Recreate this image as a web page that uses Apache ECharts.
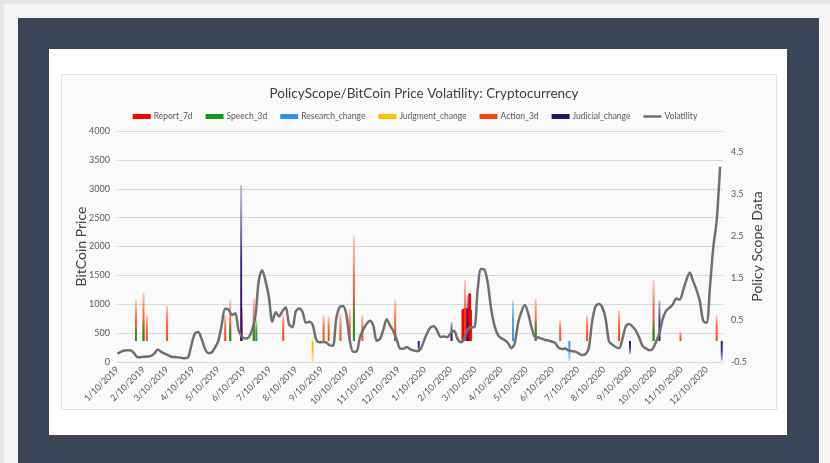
<!DOCTYPE html>
<html>
<head>
<meta charset="utf-8">
<script src="https://cdn.jsdelivr.net/npm/echarts@6/dist/echarts.min.js"></script>
<style>
  html, body { margin: 0; padding: 0; }
  body { width: 830px; height: 463px; overflow: hidden; background: #e6e6e6; position: relative; font-family: Lato, sans-serif; }
  .outer { position: absolute; left: 4px; top: 4px; width: 840px; height: 480px; background: #f5f5f5; }
  .slate { position: absolute; left: 18px; top: 18px; width: 801px; height: 470px; background: #3b4757; }
  .panel { position: absolute; left: 49px; top: 49px; width: 738px; height: 386px; background: #fff; }
  .chart-box { position: absolute; left: 61px; top: 74px; width: 714px; height: 334px; background: #fafafa; border: 1px solid #e2e2e2; }
  #chart { position: absolute; left: 0; top: 0; width: 830px; height: 463px; }
</style>
</head>
<body>
<div class="outer"></div>
<div class="slate"></div>
<div class="panel"></div>
<div class="chart-box"></div>
<div id="chart"></div>
<script>
// daily category axis, 1/10/2019 onward
const startDate = new Date(2019, 0, 10);
const dayCount = 720;

// Volatility (left axis), read every 4 days from 1/10/2019
const volStep = 4;
const volatility = [
  145, 175, 200, 205, 200, 150, 81, 85, 90, 95,
  105, 150, 215, 175, 145, 120, 92, 85, 80, 72,
  66, 80, 300, 490, 520, 400, 230, 155, 165, 250,
  370, 650, 920, 910, 814, 843, 550, 438, 405, 430,
  550, 800, 1420, 1590, 1400, 1120, 700, 860, 790, 880,
  950, 650, 600, 880, 925, 860, 680, 695, 645, 393,
  340, 345, 340, 290, 280, 750, 950, 970, 820, 380,
  178, 178, 420, 560, 660, 715, 630, 370, 400, 560,
  740, 630, 530, 380, 232, 230, 260, 220, 200, 188,
  220, 360, 500, 600, 620, 540, 435, 440, 430, 500,
  540, 400, 340, 400, 560, 600, 600, 1250, 1610, 1600,
  1370, 920, 630, 470, 410, 381, 330, 240, 324, 670,
  871, 985, 843, 600, 435, 425, 405, 380, 372, 355,
  330, 250, 225, 235, 200, 190, 180, 150, 121, 135,
  240, 700, 960, 1005, 950, 750, 360, 300, 260, 237,
  400, 620, 660, 612, 540, 420, 275, 237, 205, 230,
  352, 500, 750, 890, 940, 1000, 1100, 1080, 1230, 1420,
  1550, 1400, 1250, 1050, 710, 680, 1300, 1990, 2450, 3380
];

// Policy scope series (right axis): [date, value]
const report7d = [
  ['2/24/2020', 0.75], ['2/25/2020', 0.76], ['2/26/2020', 0.77], ['2/27/2020', 0.78],
  ['2/28/2020', 0.78], ['2/29/2020', 0.77], ['3/1/2020', 0.76], ['3/2/2020', 0.78],
  ['3/3/2020', 1.13], ['3/4/2020', 1.13], ['3/5/2020', 0.74]
];
const speech3d = [
  ['2/1/2019', 0.33], ['2/10/2019', 0.49], ['5/24/2019', 0.41], ['6/21/2019', 0.49],
  ['6/24/2019', 0.49], ['10/18/2019', 1.01], ['12/6/2019', 0.25], ['5/21/2020', 0.49],
  ['10/8/2020', 0.49]
];
const researchChange = [['4/24/2020', 0.97], ['6/30/2020', -0.47]];
const judgmentChange = [['8/30/2019', -0.51]];
const action3d = [
  ['2/1/2019', 0.97], ['2/10/2019', 1.15], ['2/14/2019', 0.61], ['3/10/2019', 0.84],
  ['5/18/2019', 0.61], ['5/24/2019', 0.97], ['6/7/2019', 0.81], ['6/21/2019', 1.01],
  ['7/26/2019', 0.65], ['9/12/2019', 0.61], ['9/18/2019', 0.59], ['10/2/2019', 0.65],
  ['10/13/2019', 0.75], ['10/18/2019', 2.51], ['10/28/2019', 0.61], ['12/6/2019', 0.97],
  ['2/27/2020', 1.45], ['5/21/2020', 1.01], ['6/19/2020', 0.49], ['7/21/2020', 0.61],
  ['8/28/2020', 0.73], ['10/8/2020', 1.45], ['11/9/2020', 0.21], ['12/22/2020', 0.61]
];
const judicialChange = [
  ['6/6/2019', 3.71], ['1/3/2020', -0.27], ['2/11/2020', 0.45], ['3/1/2020', 1.09],
  ['9/10/2020', -0.31], ['10/15/2020', 0.97], ['12/28/2020', -0.47]
];

const fmtDate = (d) => (d.getMonth() + 1) + '/' + d.getDate() + '/' + d.getFullYear();
const categories = [];
for (let i = 0; i < dayCount; i++) {
  const d = new Date(startDate);
  d.setDate(d.getDate() + i);
  categories.push(fmtDate(d));
}
const volData = volatility.map((v, i) => [categories[i * volStep], v]);

const fadeColor = (rgb, solid) => (p) => {
  if (solid) return 'rgb(' + rgb + ')';
  const full = 'rgba(' + rgb + ',1)';
  const faded = 'rgba(' + rgb + ',0.25)';
  const neg = p.value[1] < 0;
  return new echarts.graphic.LinearGradient(0, 0, 0, 1, neg
    ? [{ offset: 0, color: full }, { offset: 0.5, color: 'rgba(' + rgb + ',0.85)' }, { offset: 1, color: faded }]
    : [{ offset: 0, color: faded }, { offset: 0.5, color: 'rgba(' + rgb + ',0.85)' }, { offset: 1, color: full }]);
};

const barSeries = (name, data, rgb, z, solid) => ({
  name: name,
  type: 'bar',
  yAxisIndex: 1,
  data: data,
  barWidth: 2,
  barGap: '-100%',
  z: z,
  itemStyle: { color: fadeColor(rgb, solid) },
  emphasis: { disabled: true }
});

const labelColor = '#595959';
const chart = echarts.init(document.getElementById('chart'));
chart.setOption({
  animation: false,
  textStyle: { fontFamily: 'Lato, sans-serif' },
  title: {
    text: 'PolicyScope/BitCoin Price Volatility: Cryptocurrency',
    left: 419,
    textAlign: 'center',
    top: 82,
    textStyle: { fontSize: 13.5, fontWeight: 'normal', color: '#404040', fontFamily: 'Lato, sans-serif' }
  },
  legend: {
    top: 107,
    left: 'center',
    itemWidth: 18,
    itemHeight: 5,
    itemGap: 13,
    textStyle: { fontSize: 8.5, color: labelColor, padding: [0, 0, 0, -2] },
    data: [
      { name: 'Report_7d', icon: 'rect', itemStyle: { color: '#ff0000' } },
      { name: 'Speech_3d', icon: 'rect', itemStyle: { color: '#0b9a1c' } },
      { name: 'Research_change', icon: 'rect', itemStyle: { color: '#2f93f0' } },
      { name: 'Judgment_change', icon: 'rect', itemStyle: { color: '#ffc000' } },
      { name: 'Action_3d', icon: 'rect', itemStyle: { color: '#ff4516' } },
      { name: 'Judicial_change', icon: 'rect', itemStyle: { color: '#2a0f6e' } },
      { name: 'Volatility', icon: 'path://M0,0 L36,0 L36,5 L0,5 Z', itemStyle: { color: '#707070' } }
    ]
  },
  grid: { left: 117, right: 107, top: 131, bottom: 101 },
  xAxis: {
    type: 'category',
    data: categories,
    axisLine: { onZero: false, lineStyle: { color: '#d9d9d9' } },
    axisTick: { show: false },
    axisLabel: {
      interval: (idx, val) => val.split('/')[1] === '10',
      rotate: 45,
      fontSize: 9,
      color: labelColor,
      margin: 6
    }
  },
  yAxis: [
    {
      type: 'value',
      min: 0,
      max: 4000,
      interval: 500,
      name: 'BitCoin Price',
      nameLocation: 'middle',
      nameRotate: 90,
      nameGap: 29,
      nameMoveOverlap: false,
      nameTextStyle: { fontSize: 14, color: '#404040' },
      axisLabel: { fontSize: 9, color: labelColor, margin: 7, formatter: (v) => String(v) },
      axisLine: { show: false },
      axisTick: { show: false },
      splitLine: { lineStyle: { color: '#d9d9d9' } }
    },
    {
      type: 'value',
      min: -0.5,
      max: 5,
      interval: 1,
      name: 'Policy Scope Data',
      nameLocation: 'middle',
      nameRotate: 90,
      nameGap: 27,
      nameMoveOverlap: false,
      nameTextStyle: { fontSize: 14, color: '#404040' },
      axisLabel: { fontSize: 9, color: labelColor, margin: 8, showMaxLabel: false },
      axisLine: { show: false },
      axisTick: { show: false },
      splitLine: { show: false }
    }
  ],
  series: [
    barSeries('Report_7d', report7d, '255,0,0', 2, true),
    barSeries('Speech_3d', speech3d, '11,154,28', 3),
    barSeries('Research_change', researchChange, '47,147,240', 3),
    barSeries('Judgment_change', judgmentChange, '255,192,0', 3),
    barSeries('Action_3d', action3d, '255,69,22', 2),
    barSeries('Judicial_change', judicialChange, '42,15,110', 2),
    {
      name: 'Volatility',
      type: 'line',
      yAxisIndex: 0,
      data: volData,
      symbol: 'none',
      smooth: 0.3,
      z: 4,
      lineStyle: { color: '#707070', width: 2.5 },
      itemStyle: { color: '#707070' }
    }
  ]
});
</script>
</body>
</html>
